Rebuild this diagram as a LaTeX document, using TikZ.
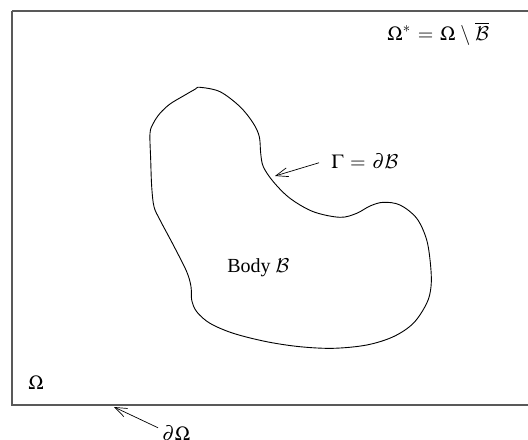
\documentclass[tikz,border=0pt]{standalone}
\usepackage{mathptmx}
\usepackage{fontspec}
\setmainfont{Liberation Serif}
\DeclareMathAlphabet{\mycal}{OMS}{cmsy}{m}{n}
\usetikzlibrary{arrows.meta}
\begin{document}
\begin{tikzpicture}[x=0.5pt,y=-0.5pt,
  lbl/.style={inner sep=0pt,anchor=base west},
  ptr/.style={line width=0.35pt,-{Straight Barb[length=6pt,width=4.5pt]}},
  outerbox/.style={draw=black!65,line width=0.8pt},
  bodyline/.style={draw=black,line width=0.45pt}]
\useasboundingbox (0,0) rectangle (528,439);
\draw[outerbox] (12,11) -- (540,11) (12,11) -- (12,405) -- (540,405);
\draw[bodyline] plot[smooth cycle,tension=0.55] coordinates {
(200,87.3) (220,91.7) (240,106.7) (253.3,123.3) (259.3,136.7) (260.7,153.3)
(263.3,166.7) (273.3,181.7) (290,198.3) (313.3,211.7) (340,217.3) (356.7,213.3)
(370,206) (383.3,202.3) (400,205) (416.7,218.3) (426.7,240) (430.7,266.7)
(431,286.7) (426.7,303.3) (413.3,323.3) (393.3,336.7) (366.7,345) (333.3,348.3)
(300,346.7) (266.7,341.7) (233.3,333.3) (210,323.3) (196.7,311.7) (191.7,300)
(191,286.7) (186.7,271.7) (173.3,245) (160,220) (154,206.7) (151.7,186.7)
(150.7,160) (150,133.3) (153.3,123.3) (160,113.3) (170,104) (183.3,96) (195,89.3)};
\node[lbl] (omstar) at (387,40) {$\Omega^* \mathrel{\,=\,} \Omega \mathbin{\,\setminus\,} \overline{\mycal{B}}$};
\node[lbl] (gamma) at (331,168) {$\Gamma \mathrel{\,=\,} \partial\mycal{B}$};
\node[lbl] (body) at (227,272) {Body $\mycal{B}$};
\node[lbl] (om) at (28,389) {$\Omega$};
\node[lbl] (dom) at (162,440) {$\partial\Omega$};
\coordinate (gtip) at (275,176);
\coordinate (dtip) at (114,407);
\draw[ptr] (gamma.west) ++(-12,2) coordinate (gs) -- (gtip);
\draw[ptr] (dom.west) ++(-4,-5) coordinate (ds) -- (dtip);
\end{tikzpicture}
\end{document}
